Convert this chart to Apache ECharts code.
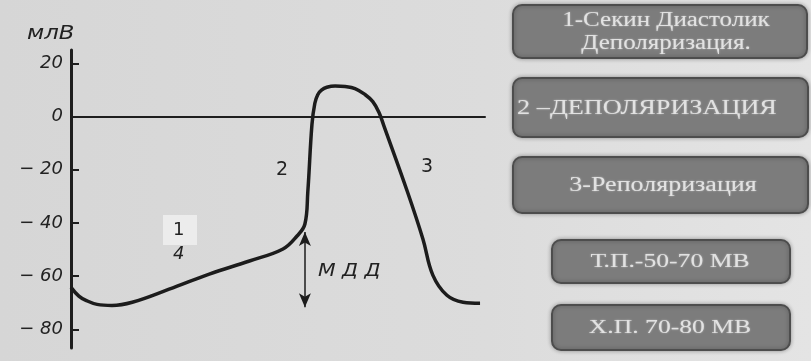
<!DOCTYPE html>
<html>
<head>
<meta charset="utf-8">
<script src="https://cdn.jsdelivr.net/npm/echarts@6/dist/echarts.min.js"></script>
<style>
html, body { margin: 0; padding: 0; }
#chart { width: 811px; height: 361px; }
</style>
</head>
<body>
<div id="chart"></div>
<script>
// time (arbitrary units) and membrane potential, mV
var timeAxis = [0, 1.9, 3.6, 6.3, 9.9, 14.8, 23.7, 33.4, 43.1, 51.2, 54.6, 56.5, 57.2, 58.2, 58.9, 59.6, 60.5, 61.8, 63.8, 66.2, 68.6, 71.0, 72.9, 74.4, 75.6, 81.2, 85.0, 87.4, 90.8, 94.7, 98.8];
var potential = [-64.2, -67.5, -69.1, -70.6, -71.0, -69.8, -64.9, -59.2, -54.3, -49.8, -44.9, -40.4, -28.3, -3.0, 5.0, 8.2, 9.9, 11.0, 11.5, 11.3, 10.5, 8.3, 5.6, 1.5, -3.6, -28.0, -46.0, -59.6, -67.2, -69.8, -70.2];
var yTicks = [20, 0, -20, -40, -60, -80];
var mddRange = [56.5, -43.4, -71.7];

var boxTexts = ['1-Секин Диастолик\nДеполяризация.', '2 –ДЕПОЛЯРИЗАЦИЯ', '3-Реполяризация', 'Т.П.-50-70 МВ', 'Х.П. 70-80 МВ'];

function connectPoints(xs, ys) {
	var out = [];
	for (var i = 0; i < xs.length; i++) {
		out.push([xs[i], ys[i]]);
	}
	return out;
}

var chart = echarts.init(document.getElementById('chart'));

// boxes on the right side of the slide
var boxes = [
	{ x: 513, y: 5, w: 294, h: 53, size: 20, sx: 1.25, cx: 666 },
	{ x: 513, y: 78, w: 295, h: 59, size: 21, sx: 1.25, cx: 647 },
	{ x: 513, y: 157, w: 295, h: 56, size: 20, sx: 1.3, cx: 663 },
	{ x: 552, y: 240, w: 238, h: 43, size: 19, sx: 1.35, cx: 670 },
	{ x: 552, y: 305, w: 238, h: 45, size: 19, sx: 1.35, cx: 670 }
];
var graphics = [
	{ type: 'rect', shape: { x: 163, y: 215, width: 34, height: 30 }, style: { fill: '#ececec' }, z: 0 }
];
boxes.forEach(function (b, i) {
	graphics.push({
		type: 'rect',
		shape: { x: b.x, y: b.y, width: b.w, height: b.h, r: 9 },
		style: { fill: '#7c7c7c', stroke: '#4d4d4d', lineWidth: 2, shadowBlur: 4, shadowColor: 'rgba(0,0,0,0.3)' }
	});
	graphics.push({
		type: 'text',
		x: b.cx,
		y: b.y + b.h / 2 + 1,
		scaleX: b.sx,
		style: {
			text: boxTexts[i],
			fill: '#e2e2e2',
			font: b.size + 'px "Liberation Serif", serif',
			align: 'center',
			verticalAlign: 'middle',
			lineHeight: 23,
			textShadowBlur: 2,
			textShadowColor: 'rgba(255,255,255,0.5)'
		}
	});
});
// labels on the curve
graphics.push(
	{ type: 'text', x: 27, y: 25, scaleX: 1.2, style: { text: 'млВ', fill: '#222', font: 'italic 19px "DejaVu Sans", sans-serif' } },
	{ type: 'text', x: 173, y: 221, style: { text: '1', fill: '#222', font: '18px "DejaVu Sans", sans-serif' }, z: 2 },
	{ type: 'text', x: 173, y: 245, style: { text: '4', fill: '#222', font: 'italic 18px "DejaVu Sans", sans-serif' } },
	{ type: 'text', x: 276, y: 161, style: { text: '2', fill: '#222', font: '19px "DejaVu Sans", sans-serif' } },
	{ type: 'text', x: 421, y: 158, style: { text: '3', fill: '#222', font: '19px "DejaVu Sans", sans-serif' } },
	{ type: 'text', x: 318, y: 263, scaleX: 1.2, style: { text: 'М Д Д', fill: '#222', font: 'italic 17px "DejaVu Sans", sans-serif' } }
);

chart.setOption({
	backgroundColor: {
		type: 'linear', x: 0, y: 0, x2: 1, y2: 0,
		colorStops: [
			{ offset: 0, color: '#d6d6d6' },
			{ offset: 0.6, color: '#dcdcdc' },
			{ offset: 1, color: '#e4e4e4' }
		]
	},
	animation: false,
	grid: { left: 71, right: 326, top: 50, bottom: 13 },
	xAxis: {
		type: 'value',
		min: 0,
		max: 100,
		axisLine: { show: true, onZero: true, lineStyle: { color: '#1e1e1e', width: 2 } },
		axisTick: { show: false },
		axisLabel: { show: false },
		splitLine: { show: false }
	},
	yAxis: {
		type: 'value',
		min: -87,
		max: 25,
		axisLine: { show: true, lineStyle: { color: '#1e1e1e', width: 3 } },
		axisTick: { show: true, inside: true, length: 8, customValues: yTicks, lineStyle: { color: '#1e1e1e', width: 2 } },
		axisLabel: {
			customValues: yTicks,
			margin: 8,
			color: '#222',
			fontSize: 18,
			fontStyle: 'italic',
			fontFamily: '"DejaVu Sans", sans-serif',
			formatter: function (v) { return String(v).replace('-', '− '); }
		},
		splitLine: { show: false }
	},
	series: [{
		type: 'line',
		data: connectPoints(timeAxis, potential),
		smooth: 0.4,
		showSymbol: false,
		lineStyle: { color: '#1c1c1c', width: 3.5 },
		markLine: {
			silent: true,
			symbol: ['arrow', 'arrow'],
			symbolSize: [9, 14],
			label: { show: false },
			lineStyle: { color: '#1c1c1c', width: 1.5, type: 'solid' },
			data: [[{ coord: [mddRange[0], mddRange[1]] }, { coord: [mddRange[0], mddRange[2]] }]]
		}
	}],
	graphic: graphics
});
</script>
</body>
</html>
